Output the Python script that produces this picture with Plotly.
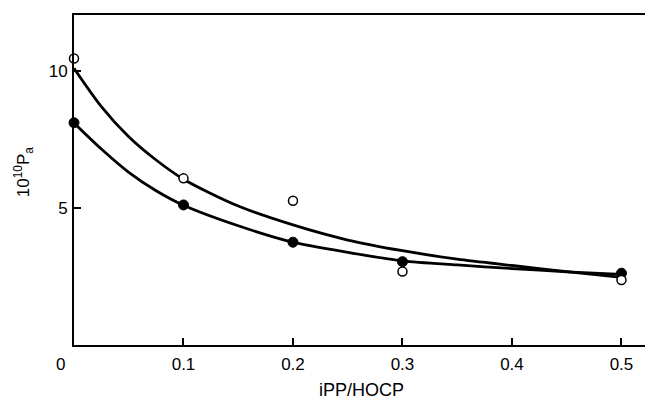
import plotly.graph_objects as go

# Measured points (10^10 Pa vs iPP/HOCP)
open_x = [0.0, 0.1, 0.2, 0.3, 0.5]
open_y = [10.45, 6.08, 5.26, 2.68, 2.37]
filled_x = [0.0, 0.1, 0.2, 0.3, 0.5]
filled_y = [8.11, 5.11, 3.75, 3.04, 2.62]

# Hand drawn fit curves
curve_x = [0.0, 0.025, 0.05, 0.075, 0.1, 0.15, 0.2, 0.25, 0.3, 0.35, 0.4, 0.45, 0.5]
upper_y = [10.1, 8.7, 7.6, 6.75, 6.05, 5.07, 4.38, 3.83, 3.44, 3.13, 2.9, 2.68, 2.47]
lower_y = [8.1, 7.15, 6.3, 5.63, 5.1, 4.35, 3.75, 3.38, 3.07, 2.92, 2.79, 2.67, 2.58]

x_ticks = [0.1, 0.2, 0.3, 0.4, 0.5]
x_labels = ['0.1', '0.2', '0.3', '0.4', '0.5']
y_ticks = [5, 10]

fig = go.Figure()

for cy in [upper_y, lower_y]:
    fig.add_trace(go.Scatter(x=curve_x, y=cy, mode='lines',
                             line=dict(color='black', width=2.8, shape='spline', smoothing=0.8),
                             cliponaxis=False, hoverinfo='skip'))

fig.add_trace(go.Scatter(x=filled_x, y=filled_y, mode='markers',
                         marker=dict(symbol='circle', size=10, color='black',
                                     line=dict(color='black', width=1)),
                         cliponaxis=False))
fig.add_trace(go.Scatter(x=open_x, y=open_y, mode='markers',
                         marker=dict(symbol='circle', size=9, color='white',
                                     line=dict(color='black', width=1.5)),
                         cliponaxis=False))

fig.update_layout(
    width=645, height=400,
    margin=dict(l=74, r=0, t=15, b=55),
    paper_bgcolor='white', plot_bgcolor='white',
    showlegend=False,
    font=dict(family='Liberation Sans, Arial, sans-serif', size=17, color='black'),
    xaxis=dict(range=[0, 0.5215], tickvals=x_ticks, ticktext=x_labels,
               ticks='inside', ticklen=7, tickwidth=1.5, tickcolor='black',
               showline=True, linecolor='black', linewidth=2, mirror=True,
               showgrid=False, zeroline=False, automargin=False,
               ticklabelstandoff=3),
    yaxis=dict(range=[0, 12.04], tickvals=y_ticks,
               ticks='inside', ticklen=7, tickwidth=1.5, tickcolor='black',
               showline=True, linecolor='black', linewidth=2,
               showgrid=False, zeroline=False, automargin=False,
               ticklabelstandoff=1),
)

# origin label, axis titles
fig.add_annotation(text='0', x=-0.0245, y=-0.06, xref='paper', yref='paper',
                   xanchor='center', yanchor='middle',
                   showarrow=False, font=dict(size=17))
fig.add_annotation(text='iPP/HOCP', x=0.504, y=-0.136, xref='paper', yref='paper',
                   xanchor='center', yanchor='middle',
                   showarrow=False, font=dict(size=18))
fig.add_annotation(text='10<sup>10</sup>P<sub>a</sub>', textangle=-90,
                   x=-0.089, y=0.524, xref='paper', yref='paper',
                   xanchor='center', yanchor='middle',
                   showarrow=False, font=dict(size=17))

# drop the default page margin so the figure fills the window
fig.write_html("out.html", config={'displayModeBar': False},
               post_script="document.body.style.margin='0';"
                           "document.body.style.overflow='hidden';")
